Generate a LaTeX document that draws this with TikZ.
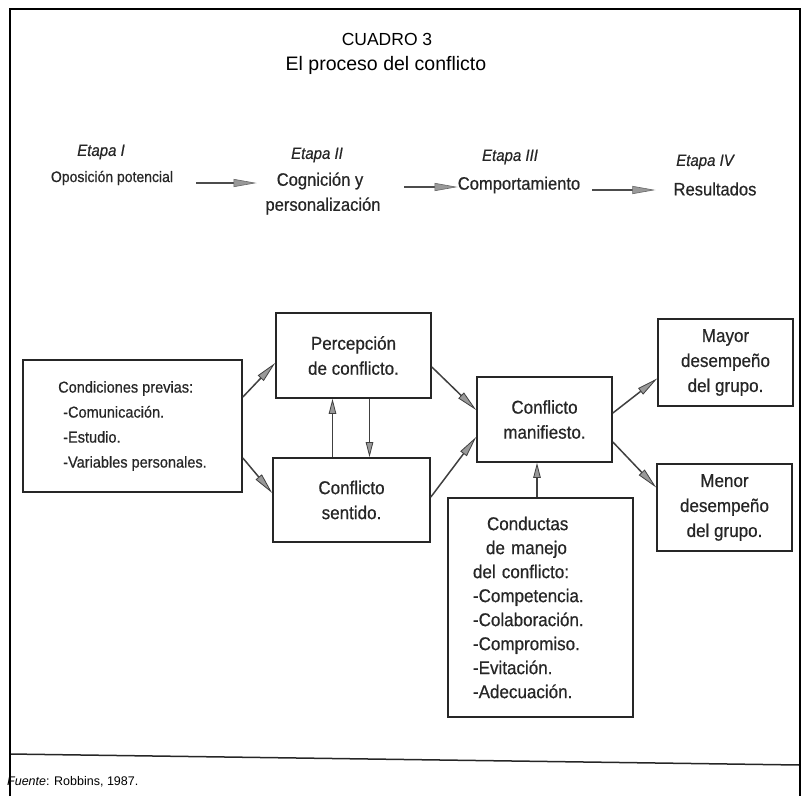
\documentclass[tikz,border=0pt]{standalone}
\usepackage{fontspec}
\setmainfont{Liberation Sans}[FakeStretch=0.92,FakeBold=0.6]
\newfontfamily\titlefont{Liberation Sans}
\usetikzlibrary{arrows.meta}
\begin{document}
\begin{tikzpicture}[x=1pt,y=-1pt,
  box/.style={draw=black!85, line width=1.7pt, inner sep=0pt, align=center, text=black!85,
    font=\fontsize{18.5}{25}\selectfont},
  lbl/.style={inner sep=0pt, text=black!85, font=\fontsize{18}{20}\selectfont},
  etp/.style={inner sep=0pt, text=black!85, font=\fontsize{16.3}{18}\selectfont\itshape},
  conn/.style={draw=black!75, line width=1.5pt,
    -{Triangle[length=21pt,width=8pt,fill=black!40,color=black!75,line width=0.8pt]}},
  vconn/.style={draw=black!75, line width=1.5pt,
    -{Triangle[length=15pt,width=7.5pt,fill=black!40,color=black!75,line width=0.8pt]}},
  tconn/.style={draw=black!70, line width=1.4pt,
    -{Triangle[length=23pt,width=8pt,fill=black!40,color=black!60,line width=0.6pt]}},
  frame/.style={line width=2.8pt, black},
]
\useasboundingbox (0,0) rectangle (805,796);

% frame
\coordinate (fbl) at (10,796);
\coordinate (ftl) at (10,9);
\coordinate (ftr) at (800,9);
\coordinate (fbr) at (800,796);
\coordinate (rl) at (10,754);
\coordinate (rr) at (800,765);
\draw[line width=1.5pt, black!85] (rl) -- (rr);

% source
\node[inner sep=0pt, anchor=west, font=\titlefont\fontsize{12.5}{14}\selectfont] (fuente) at (7,782)
  {\textit{Fuente}: Robbins, 1987.};

\draw[frame] (fbl) -- (ftl) -- (ftr) -- (fbr);

% title
\node[inner sep=0pt, font=\titlefont\fontsize{17.5}{20}\selectfont] (cuadro) at (387,39) {CUADRO 3};
\node[inner sep=0pt, font=\titlefont\fontsize{19.5}{22}\selectfont] (titulo) at (386,65) {El proceso del conflicto};

% stages
\node[etp] (e1) at (101,152) {Etapa I};
\node[lbl, font=\fontsize{15.2}{18}\selectfont] (o1) at (112,178) {Oposición potencial};
\node[etp] (e2) at (317,155) {Etapa II};
\node[lbl] (c2) at (320,181) {Cognición y};
\node[lbl] (p2) at (323,206) {personalización};
\node[etp] (e3) at (510,157) {Etapa III};
\node[lbl] (c3) at (519,185) {Comportamiento};
\node[etp] (e4) at (705,162) {Etapa IV};
\node[lbl] (c4) at (715,189) {Resultados};

\draw[tconn, shorten <=23pt, shorten >=20pt] ([yshift=-5pt]o1.east) -- ([yshift=-2pt]c2.west);
\draw[tconn, shorten <=41pt, shorten >=0pt] ([yshift=-6pt]c2.east) -- ([yshift=-2pt]c3.west);
\draw[tconn, shorten <=12pt, shorten >=18pt] ([yshift=-5pt]c3.east) -- ([yshift=-1pt]c4.west);

% boxes
\node[box, minimum width=219pt, minimum height=132pt, align=left,
      font=\fontsize{15.8}{25}\selectfont] (cond) at (132.5,426)
  {Condiciones previas:\\\hspace*{5pt}-Comunicación.\\\hspace*{5pt}-Estudio.\\\hspace*{5pt}-Variables personales.};
\node[box, minimum width=155pt, minimum height=85pt] (perc) at (353.5,355.5)
  {Percepción\\de conflicto.};
\node[box, minimum width=157pt, minimum height=84pt] (sent) at (351.5,500)
  {Conflicto\\sentido.};
\node[box, minimum width=135pt, minimum height=85pt] (man) at (544.5,419.5)
  {Conflicto\\manifiesto.};
\node[box, minimum width=135pt, minimum height=87pt] (mayor) at (725.5,362.5)
  {Mayor\\desempeño\\del grupo.};
\node[box, minimum width=135pt, minimum height=87pt] (menor) at (724.5,507.5)
  {Menor\\desempeño\\del grupo.};
\node[box, minimum width=185pt, minimum height=219pt, text width=135pt, align=left,
      font=\fontsize{18.5}{24}\selectfont] (cdt) at (540.5,607.5)
  {\hspace*{14pt}Conductas\\\hspace*{13pt}de manejo\\del conflicto:\\-Competencia.\\-Colaboración.\\-Compromiso.\\-Evitación.\\-Adecuación.};

% connectors
\draw[conn] ([yshift=29pt]cond.east) -- ([yshift=-7.5pt]perc.west);
\draw[conn] ([yshift=-32pt]cond.east) -- ([yshift=7pt]sent.west);
\draw[vconn] ([xshift=16pt]perc.south) -- ([xshift=16pt]perc.south |- sent.north);
\draw[vconn] ([xshift=-21pt]perc.south |- sent.north) -- ([xshift=-21pt]perc.south);
\draw[conn] ([yshift=-11.5pt]perc.east) -- ([yshift=9.5pt]man.west);
\draw[conn] ([yshift=3pt]sent.east) -- ([yshift=-17.5pt]man.west);
\draw[conn] ([yshift=6.5pt]man.east) -- ([yshift=-16pt]mayor.west);
\draw[conn] ([yshift=-22.5pt]man.east) -- ([yshift=20pt]menor.west);
\draw[vconn] ([xshift=-3.5pt]cdt.north) -- ([xshift=-3.5pt]cdt.north |- man.south);
\end{tikzpicture}
\end{document}
